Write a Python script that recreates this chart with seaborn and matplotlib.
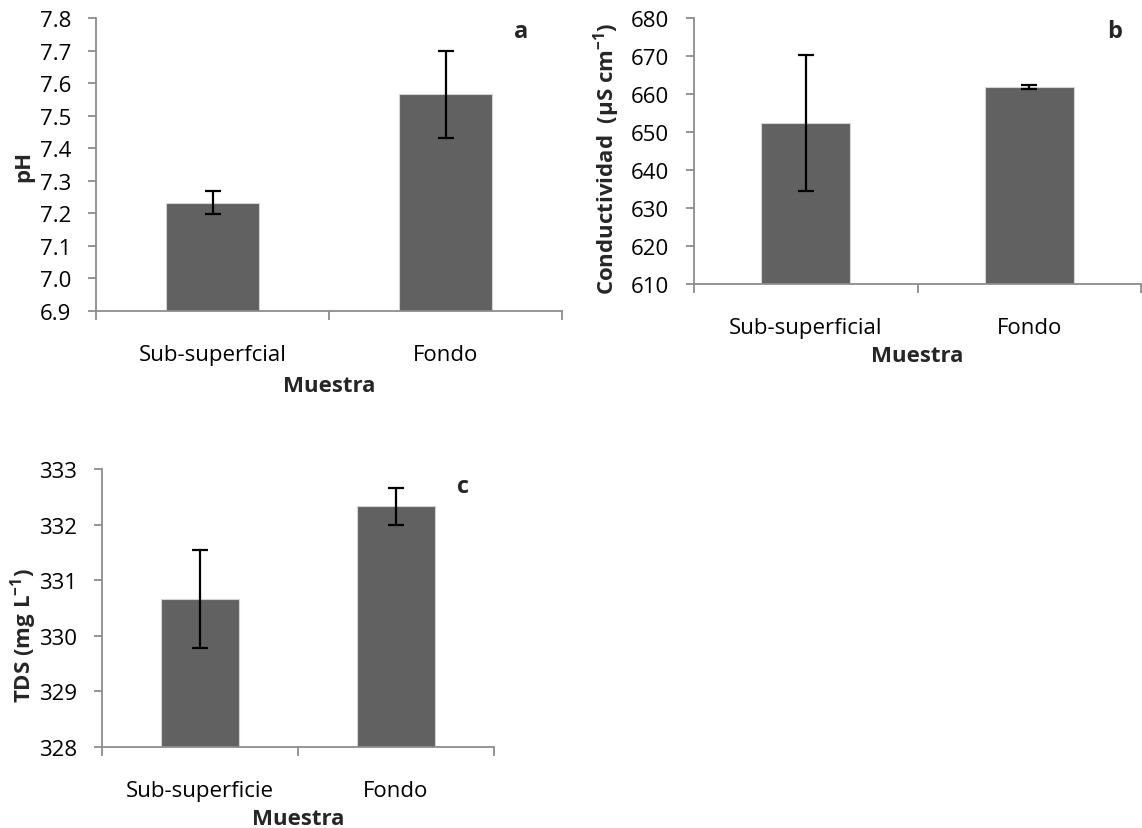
import matplotlib
matplotlib.use("Agg")
import matplotlib.pyplot as plt
import seaborn as sns
import numpy as np

sns.set_style("white")
plt.rcParams['font.family'] = ['Open Sans', 'DejaVu Sans']
plt.rcParams['mathtext.fontset'] = 'custom'
plt.rcParams['mathtext.rm'] = 'Open Sans'
plt.rcParams['mathtext.bf'] = 'Open Sans:bold'
plt.rcParams['mathtext.it'] = 'Open Sans:italic'

# Data
cats_a = ["Sub-superfcial", "Fondo"]
ph_mean = [7.233, 7.566]
ph_err = [0.034, 0.134]

cats_b = ["Sub-superficial", "Fondo"]
cond_mean = [652.3, 661.8]
cond_err = [17.9, 0.55]

cats_c = ["Sub-superficie", "Fondo"]
tds_mean = [330.66, 332.33]
tds_err = [0.88, 0.33]

BAR = "#616161"
SPINE = "#8c8c8c"
W, H = 1142, 829
fig = plt.figure(figsize=(W / 100, H / 100), dpi=100)

def px_axes(l, r, t, b):
    return fig.add_axes([l / W, 1 - b / H, (r - l) / W, (b - t) / H])

def draw(ax, cats, means, errs, ylim, yticks, fmt, ylabel, ylab_size, letter, letter_xy,
         ylab_xy, xlab_y):
    sns.barplot(x=cats, y=means, color=BAR, width=0.4, ax=ax,
                edgecolor="#d4d4d4", linewidth=0.8, saturation=1)
    ax.errorbar(x=np.arange(len(cats)), y=means, yerr=errs, fmt='none',
                ecolor='black', elinewidth=1.6, capsize=6, capthick=1.6, zorder=5)
    ax.set_xlim(-0.5, len(cats) - 0.5)
    ax.set_ylim(*ylim)
    ax.set_yticks(yticks)
    ax.set_yticklabels([fmt.format(v) for v in yticks])
    ax.set_xticks(range(len(cats)))
    ax.set_xticklabels(cats)
    ax.set_xticks(np.arange(-0.5, len(cats), 1.0), minor=True)
    ax.tick_params(axis='x', which='major', length=0, pad=24, labelsize=16, colors='black')
    ax.tick_params(axis='x', which='minor', length=6.5, width=1.3, color=SPINE, direction='out', bottom=True)
    ax.tick_params(axis='y', which='major', length=6, width=1.3, color=SPINE, direction='out',
                   left=True, labelsize=16, pad=12, labelcolor='black')
    for s in ['top', 'right']:
        ax.spines[s].set_visible(False)
    for s in ['left', 'bottom']:
        ax.spines[s].set_color(SPINE)
        ax.spines[s].set_linewidth(1.3)
    ax.set_ylabel(ylabel, fontsize=ylab_size, fontweight='bold')
    ax.yaxis.set_label_coords(*ylab_xy)
    ax.yaxis.label.set_va('center')
    ax.set_xlabel("Muestra", fontsize=16, fontweight='bold')
    ax.xaxis.set_label_coords(0.5, xlab_y)
    ax.xaxis.label.set_va('baseline')
    ax.text(letter_xy[0], letter_xy[1], letter, transform=ax.transAxes, fontsize=17,
            fontweight='bold', ha='center', va='baseline')

ax_a = px_axes(96, 562, 19.3, 311.7)
draw(ax_a, cats_a, ph_mean, ph_err, (6.9, 7.8), np.round(np.arange(6.9, 7.81, 0.1), 1), "{:.1f}",
     "pH", 16, "a", (0.912, 0.936), (-0.155, 0.498), -0.2746)

ax_b = px_axes(694, 1141, 19.3, 285)
draw(ax_b, cats_b, cond_mean, cond_err, (610, 680), np.arange(610, 681, 10), "{:.0f}",
     r"Conductividad  (µS cm$^{\mathbf{-1}}$)", 16, "b", (0.942, 0.930), (-0.195, 0.474), -0.29)

ax_c = px_axes(101.7, 494, 470, 748)
draw(ax_c, cats_c, tds_mean, tds_err, (328, 333), np.arange(328, 334, 1), "{:.0f}",
     r"TDS (mg L$^{\mathbf{-1}}$)", 16, "c", (0.921, 0.917), (-0.2, 0.403), -0.277)

fig.savefig("out.png", dpi=100, facecolor='white')
